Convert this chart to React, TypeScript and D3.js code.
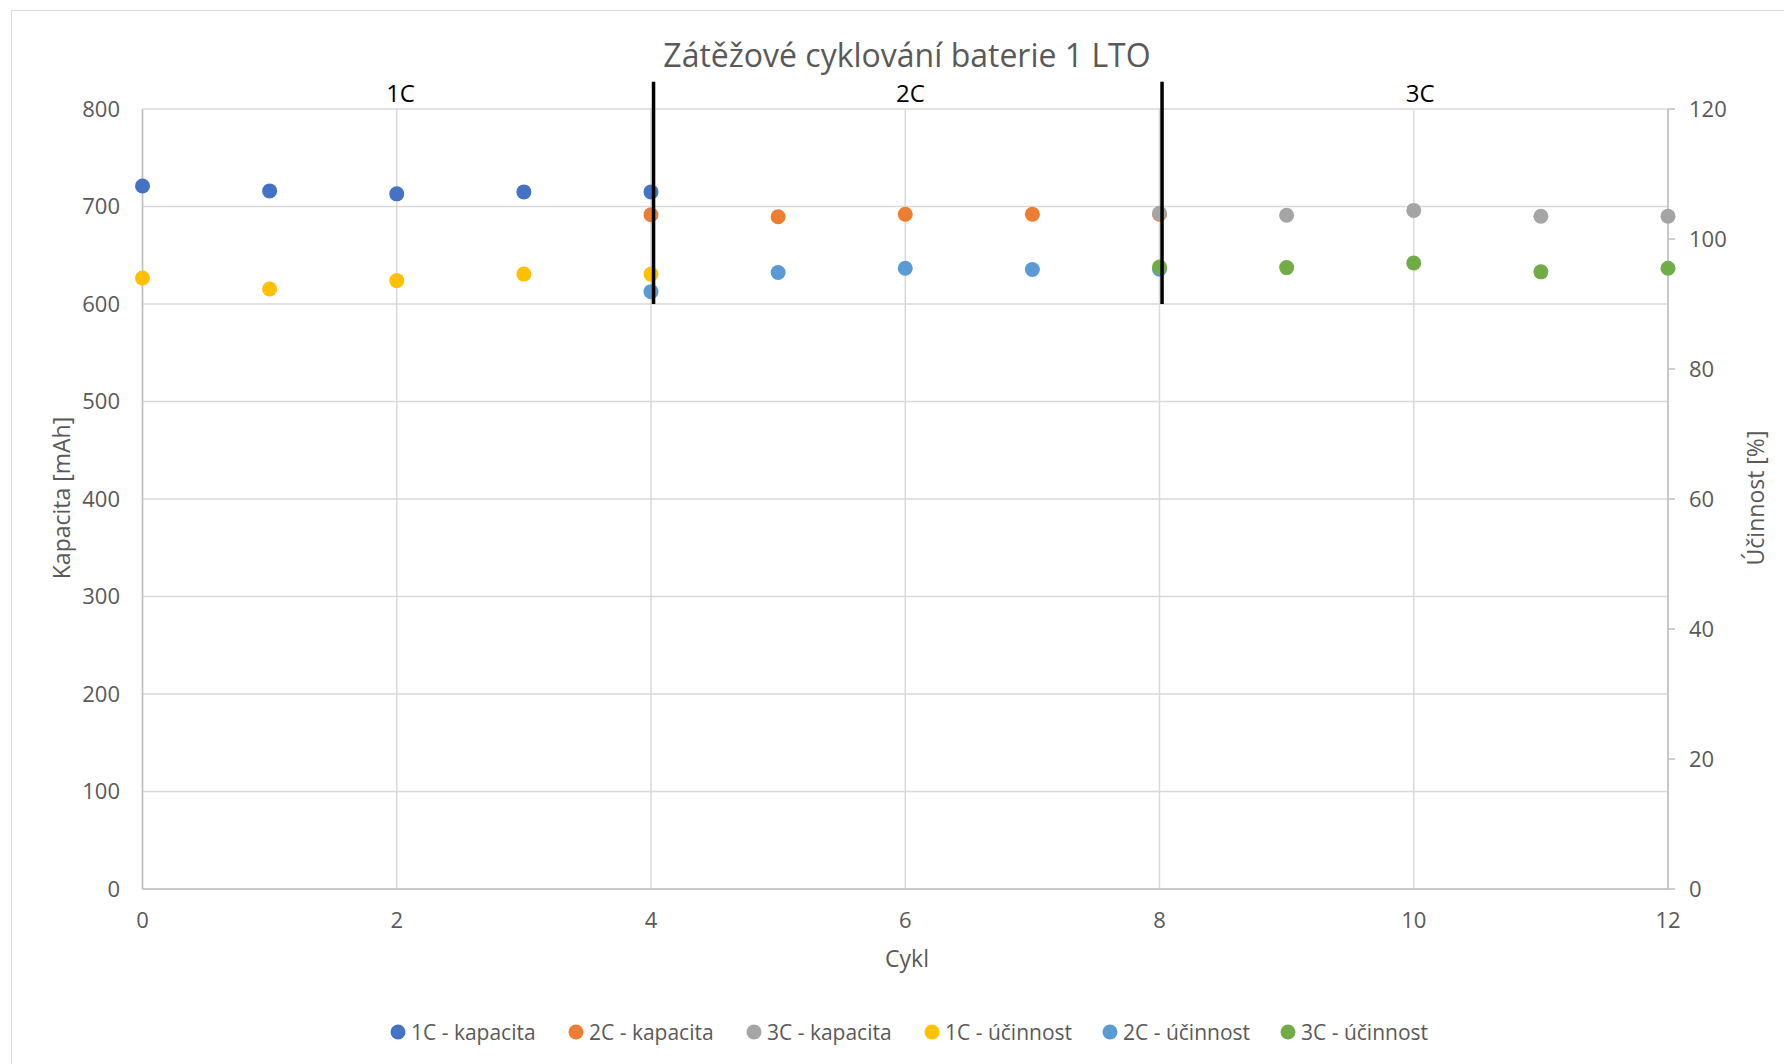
import React from "react";
import * as d3 from "d3";

const cycles1C = [0, 1, 2, 3, 4];
const cycles2C = [4, 5, 6, 7, 8];
const cycles3C = [8, 9, 10, 11, 12];
const kapacita1C = [721, 716, 713, 715, 715];
const kapacita2C = [691.5, 689.5, 692, 692, 692];
const kapacita3C = [693, 691, 696, 690, 690];
const ucinnost1C = [94.0, 92.3, 93.6, 94.6, 94.6];
const ucinnost2C = [91.9, 94.85, 95.5, 95.3, 95.35];
const ucinnost3C = [95.7, 95.6, 96.3, 94.95, 95.5];

const xTicks = [0, 2, 4, 6, 8, 10, 12];
const leftTicks = [0, 100, 200, 300, 400, 500, 600, 700, 800];
const rightTicks = [0, 20, 40, 60, 80, 100, 120];

const dividerX = [4.02, 8.02];
const dividerRange = [600, 828];
const regionLabels = ["1C", "2C", "3C"];
const regionLabelX = [2.03, 6.04, 10.05];

const title = "Zátěžové cyklování baterie 1 LTO";

type Series = { name: string; xs: number[]; ys: number[]; axis: "L" | "R"; color: string };

const series: Series[] = [
  { name: "1C - kapacita", xs: cycles1C, ys: kapacita1C, axis: "L", color: "#4472C4" },
  { name: "2C - kapacita", xs: cycles2C, ys: kapacita2C, axis: "L", color: "#ED7D31" },
  { name: "3C - kapacita", xs: cycles3C, ys: kapacita3C, axis: "L", color: "#A5A5A5" },
  { name: "1C - účinnost", xs: cycles1C, ys: ucinnost1C, axis: "R", color: "#FFC000" },
  { name: "2C - účinnost", xs: cycles2C, ys: ucinnost2C, axis: "R", color: "#5B9BD5" },
  { name: "3C - účinnost", xs: cycles3C, ys: ucinnost3C, axis: "R", color: "#70AD47" },
];

const FONT = "'Open Sans', sans-serif";
const TEXT = "#595959";

export default function App() {
  const W = 1784;
  const H = 1064;
  const x = d3.scaleLinear().domain([0, 12]).range([142.5, 1668]);
  const yL = d3.scaleLinear().domain([0, 800]).range([889, 109]);
  const yR = d3.scaleLinear().domain([0, 120]).range([889, 109]);

  return (
    <svg
      width={W}
      height={H}
      style={{ position: "absolute", left: 0, top: 0, background: "#fff" }}
      fontFamily={FONT}
    >
      <rect x={0} y={0} width={W} height={H} fill="#fff" />
      <rect x={11.5} y={10.5} width={W + 20} height={H + 20} fill="none" stroke="#D9D9D9" strokeWidth={1} />

      {/* horizontal gridlines */}
      {leftTicks.map((t) => (
        <line key={"hg" + t} x1={x(0)} x2={x(12)} y1={yL(t)} y2={yL(t)} stroke="#D9D9D9" strokeWidth={1.5} />
      ))}
      {/* vertical gridlines */}
      {xTicks.map((t) => (
        <line key={"vg" + t} x1={x(t)} x2={x(t)} y1={yL(800)} y2={yL(0)} stroke="#D9D9D9" strokeWidth={1.5} />
      ))}
      {/* axes */}
      <line x1={x(0)} x2={x(12)} y1={yL(0)} y2={yL(0)} stroke="#BFBFBF" strokeWidth={1.5} />
      <line x1={x(0)} x2={x(0)} y1={yL(0)} y2={yL(800)} stroke="#BFBFBF" strokeWidth={1.5} />
      <line x1={x(12)} x2={x(12)} y1={yR(0)} y2={yR(120)} stroke="#BFBFBF" strokeWidth={1.5} />
      {rightTicks.map((t) => (
        <line key={"rt" + t} x1={x(12)} x2={x(12) + 7} y1={yR(t)} y2={yR(t)} stroke="#BFBFBF" strokeWidth={1.5} />
      ))}

      {/* tick labels */}
      {leftTicks.map((t) => (
        <text key={"lt" + t} x={120} y={yL(t)} dy="0.36em" textAnchor="end" fontSize={22} fill={TEXT}>
          {t}
        </text>
      ))}
      {rightTicks.map((t) => (
        <text key={"rl" + t} x={1689} y={yR(t)} dy="0.36em" textAnchor="start" fontSize={22} fill={TEXT}>
          {t}
        </text>
      ))}
      {xTicks.map((t) => (
        <text key={"xt" + t} x={x(t)} y={928} textAnchor="middle" fontSize={22} fill={TEXT}>
          {t}
        </text>
      ))}

      {/* axis titles */}
      <text x={907} y={967} textAnchor="middle" fontSize={23} fill={TEXT}>
        Cykl
      </text>
      <text transform={`translate(70,498) rotate(-90)`} textAnchor="middle" fontSize={23} fill={TEXT}>
        Kapacita [mAh]
      </text>
      <text transform={`translate(1764,498) rotate(-90)`} textAnchor="middle" fontSize={23} fill={TEXT}>
        Účinnost [%]
      </text>

      {/* title */}
      <text x={907} y={67} textAnchor="middle" fontSize={32} fill={TEXT}>
        {title}
      </text>

      {/* markers */}
      {series.map((s) =>
        s.xs.map((cx, i) => (
          <circle
            key={s.name + i}
            cx={x(cx)}
            cy={s.axis === "L" ? yL(s.ys[i]) : yR(s.ys[i])}
            r={7.5}
            fill={s.color}
          />
        ))
      )}

      {/* dividers */}
      {dividerX.map((d) => (
        <line
          key={"div" + d}
          x1={x(d)}
          x2={x(d)}
          y1={yL(dividerRange[0])}
          y2={yL(dividerRange[1])}
          stroke="#000"
          strokeWidth={3.5}
        />
      ))}
      {regionLabels.map((l, i) => (
        <text key={l} x={x(regionLabelX[i])} y={102} textAnchor="middle" fontSize={24} fill="#000">
          {l}
        </text>
      ))}

      {/* legend */}
      {series.map((s, i) => (
        <g key={"lg" + s.name} transform={`translate(${398 + i * 178},1032)`}>
          <circle cx={0} cy={0} r={7.5} fill={s.color} />
          <text x={13} y={0} dy="0.36em" fontSize={21} fill={TEXT}>
            {s.name}
          </text>
        </g>
      ))}
    </svg>
  );
}
